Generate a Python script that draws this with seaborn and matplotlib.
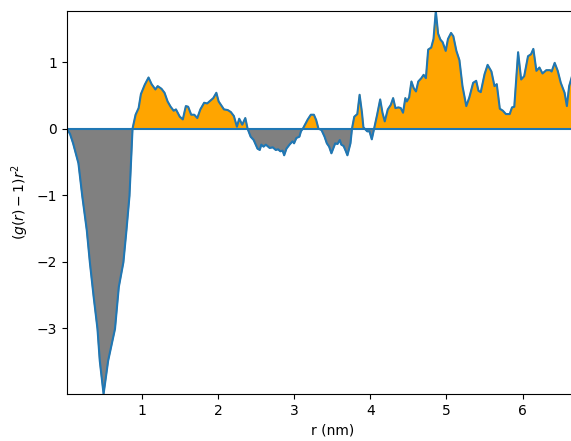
import numpy as np
import pandas as pd
import matplotlib
matplotlib.use("Agg")
import matplotlib.pyplot as plt
import seaborn as sns

r_nm = [0.02, 0.06, 0.10, 0.17, 0.22, 0.28, 0.32, 0.37, 0.42, 0.45, 0.50, 0.56, 0.65, 0.70, 0.76,
        0.80, 0.84, 0.86, 0.88,
        0.92, 0.96, 0.99, 1.04, 1.09, 1.13, 1.18, 1.21, 1.26, 1.30, 1.34, 1.38, 1.42, 1.45, 1.50,
        1.54, 1.58, 1.61, 1.65, 1.69, 1.73, 1.77, 1.82, 1.86, 1.90, 1.94, 1.98, 2.01, 2.05, 2.08,
        2.13, 2.17, 2.21, 2.25, 2.28, 2.32, 2.36, 2.39, 2.43, 2.47, 2.52, 2.55, 2.57, 2.60, 2.63,
        2.66, 2.68, 2.72, 2.76, 2.79, 2.82, 2.85, 2.87, 2.90, 2.94, 2.98, 3.00, 3.03, 3.07, 3.09,
        3.12, 3.18, 3.22, 3.26, 3.29, 3.32, 3.36, 3.40, 3.43, 3.46, 3.49, 3.52, 3.54, 3.57, 3.60,
        3.62, 3.65, 3.68, 3.70, 3.74, 3.76, 3.79, 3.83, 3.86, 3.89, 3.91, 3.96, 3.99, 4.02, 4.05,
        4.09, 4.13, 4.16, 4.19, 4.23, 4.27, 4.30, 4.33, 4.37, 4.40, 4.43, 4.46, 4.48, 4.51, 4.54,
        4.57, 4.60, 4.63, 4.67, 4.70, 4.73, 4.76, 4.80, 4.83, 4.86, 4.89, 4.92, 4.95, 4.99, 5.02,
        5.06, 5.09, 5.13, 5.17, 5.21, 5.26, 5.30, 5.35, 5.39, 5.42, 5.45, 5.50, 5.54, 5.59, 5.63,
        5.66, 5.70, 5.74, 5.78, 5.83, 5.86, 5.89, 5.94, 5.98, 6.02, 6.07, 6.11, 6.14, 6.18, 6.22,
        6.26, 6.31, 6.36, 6.38, 6.42, 6.46, 6.50, 6.55, 6.58, 6.61, 6.65, 6.70, 6.75]

h_r2 = [0.0, -0.08, -0.22, -0.52, -1.01, -1.53, -2.01, -2.53, -3.01, -3.49, -3.99, -3.49, -3.01, -2.38, -2.01,
        -1.53, -1.01, -0.52, 0.0,
        0.21, 0.31, 0.52, 0.66, 0.77, 0.67, 0.59, 0.64, 0.60, 0.54, 0.41, 0.33, 0.27, 0.29, 0.18,
        0.14, 0.34, 0.33, 0.21, 0.21, 0.16, 0.29, 0.39, 0.38, 0.42, 0.46, 0.54, 0.41, 0.34, 0.29,
        0.28, 0.25, 0.19, 0.03, 0.15, 0.06, 0.16, 0.0, -0.12, -0.17, -0.30, -0.32, -0.24, -0.27, -0.24,
        -0.27, -0.29, -0.28, -0.32, -0.31, -0.34, -0.33, -0.40, -0.30, -0.24, -0.19, -0.22, -0.14, -0.12, -0.04,
        0.01, 0.14, 0.21, 0.21, 0.13, 0.0, -0.02, -0.12, -0.22, -0.27, -0.37, -0.28, -0.22, -0.23, -0.17,
        -0.24, -0.26, -0.34, -0.40, -0.22, 0.0, 0.18, 0.22, 0.51, 0.25, 0.02, -0.04, -0.04, -0.16, 0.0,
        0.21, 0.44, 0.24, 0.11, 0.29, 0.36, 0.46, 0.31, 0.32, 0.31, 0.24, 0.46, 0.41, 0.47, 0.71,
        0.61, 0.56, 0.71, 0.76, 0.81, 0.76, 1.19, 1.22, 1.35, 1.77, 1.43, 1.34, 1.30, 1.17, 1.35,
        1.44, 1.39, 1.17, 1.03, 0.64, 0.34, 0.47, 0.69, 0.72, 0.57, 0.55, 0.82, 0.96, 0.86, 0.64,
        0.67, 0.30, 0.27, 0.22, 0.22, 0.32, 0.33, 1.15, 0.74, 0.79, 1.09, 1.12, 1.20, 0.87, 0.92,
        0.83, 0.88, 0.88, 0.86, 0.99, 0.87, 0.69, 0.54, 0.34, 0.64, 0.80, 0.85, 0.78]

x_label = "r (nm)"
y_label = r"$(g(r)-1)r^2$"

df = pd.DataFrame({"r": r_nm, "h": h_r2})
x = df["r"].to_numpy()
y = df["h"].to_numpy()

fig = plt.figure(figsize=(5.71, 4.41), dpi=100)
ax = fig.add_axes([67 / 571, 47 / 441, (7.0 - 0.02) * 76.2 / 571, 383 / 441])

ax.fill_between(x, y, 0, where=y >= 0, interpolate=True, color="orange")
ax.fill_between(x, y, 0, where=y <= 0, interpolate=True, color="grey")
ax.axhline(0, color="C0", lw=1.5)
sns.lineplot(data=df, x="r", y="h", ax=ax, color="C0", lw=1.5, sort=False, estimator=None)

ax.set_xlim(0.02, 7.0)
ax.set_ylim(-3.99, 1.77)
ax.set_xticks([1, 2, 3, 4, 5, 6])
ax.set_yticks([-3, -2, -1, 0, 1])
ax.set_xlabel(x_label)
ax.set_ylabel(y_label)

fig.savefig("out.png", dpi=100)
